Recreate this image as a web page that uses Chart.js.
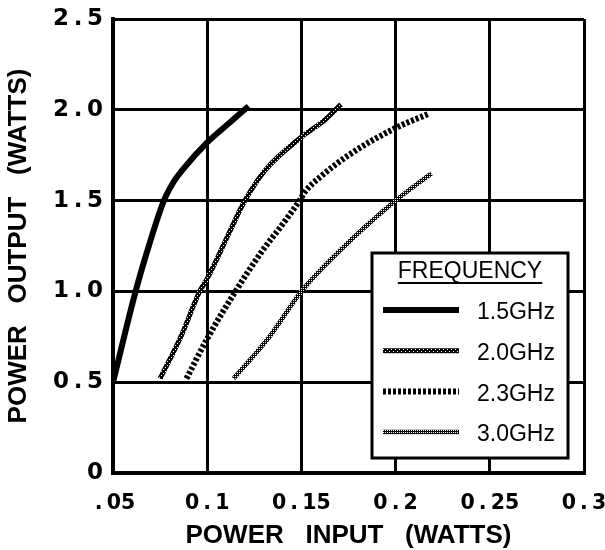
<!DOCTYPE html>
<html>
<head>
<meta charset="utf-8">
<script src="https://cdn.jsdelivr.net/npm/chart.js@4"></script>
<style>
  body { margin: 0; background: #fff; }
</style>
</head>
<body>
<canvas id="chart"></canvas>
<script>
// values
const xTicks = [0.05, 0.1, 0.15, 0.2, 0.25, 0.3];
const xTickLabels = [".05", "0.1", "0.15", "0.2", "0.25", "0.3"];
const yTicks = [0, 0.5, 1.0, 1.5, 2.0, 2.5];
const yTickLabels = ["0", "0.5", "1.0", "1.5", "2.0", "2.5"];

const seriesLabels = ["1.5GHz", "2.0GHz", "2.3GHz", "3.0GHz"];

const in15 = [0.05, 0.062, 0.069, 0.077, 0.082, 0.087, 0.1, 0.112, 0.122];
const out15 = [0.5, 1.0, 1.25, 1.5, 1.6, 1.67, 1.82, 1.93, 2.02];

const in20 = [0.075, 0.086, 0.096, 0.1, 0.112, 0.12, 0.131, 0.15, 0.162, 0.171];
const out20 = [0.52, 0.75, 1.0, 1.07, 1.33, 1.5, 1.67, 1.85, 1.94, 2.03];

const in23 = [0.089, 0.1, 0.115, 0.129, 0.14, 0.149, 0.152, 0.16, 0.175, 0.2, 0.218];
const out23 = [0.52, 0.74, 1.0, 1.22, 1.37, 1.5, 1.55, 1.63, 1.75, 1.9, 1.98];

const in30 = [0.114, 0.133, 0.15, 0.17, 0.2, 0.219];
const out30 = [0.52, 0.75, 1.0, 1.22, 1.5, 1.65];

const legendTitle = "FREQUENCY";
const xTitle = "POWER   INPUT   (WATTS)";
const yTitle = "POWER   OUTPUT   (WATTS)";

const canvas = document.querySelector("#chart");
canvas.width = 605;
canvas.height = 550;
const ctx = canvas.getContext("2d");

// small dither patterns for the grey "textured" pens
const makePattern = (rows) => {
  const c = document.createElement("canvas");
  c.width = rows[0].length;
  c.height = rows.length;
  const pc = c.getContext("2d");
  rows.forEach((r, y) => {
    r.split("").forEach((ch, x) => {
      pc.fillStyle = ch === "1" ? "#000" : "#fff";
      pc.fillRect(x, y, 1, 1);
    });
  });
  return ctx.createPattern(c, "repeat");
};
const pen20 = makePattern(["1111", "1110", "1111", "1011"]);
const pen30 = makePattern(["10", "11"]);

const toPoints = (xs, ys) => xs.map((x, i) => ({ x: x, y: ys[i] }));
// the tick numbers have a gap round the point
const spaced = (s) => s.replace(".", "\u2009.\u2009");
const font = '"Liberation Sans", Arial, sans-serif';
const tickFont = '"DejaVu Sans", sans-serif';

const legendBox = {
  id: "legendBox",
  afterDatasetsDraw(chart) {
    const { ctx, chartArea } = chart;
    const w = 196, h = 205;
    const left = chartArea.right - 16 - w;
    const top = chartArea.bottom - 15 - h;
    ctx.save();
    ctx.fillStyle = "#fff";
    ctx.fillRect(left, top, w, h);
    ctx.lineWidth = 3;
    ctx.strokeStyle = "#000";
    ctx.strokeRect(left, top, w, h);
    ctx.font = "23px " + font;
    ctx.fillStyle = "#000";
    ctx.textAlign = "center";
    ctx.textBaseline = "middle";
    ctx.fillText(legendTitle, left + w / 2, top + 19);
    const tw = ctx.measureText(legendTitle).width;
    ctx.fillRect(left + w / 2 - tw / 2, top + 29, tw, 2);
    ctx.textAlign = "left";
    chart.data.datasets.forEach((ds, i) => {
      const y = top + 59 + i * 40.7;
      ctx.beginPath();
      ctx.setLineDash(ds.borderDash || []);
      ctx.lineWidth = ds.borderWidth;
      ctx.strokeStyle = ds.borderColor;
      ctx.moveTo(left + 11, y - 2);
      ctx.lineTo(left + 87, y - 2);
      ctx.stroke();
      ctx.fillText(ds.label, left + 105, y + 1);
    });
    ctx.restore();
  },
};

const mChart = new Chart(ctx, {
  type: "line",
  data: {
    datasets: [
      {
        label: seriesLabels[0],
        data: toPoints(in15, out15),
        borderColor: "#000",
        borderWidth: 6,
      },
      {
        label: seriesLabels[1],
        data: toPoints(in20, out20),
        borderColor: pen20,
        borderWidth: 5,
      },
      {
        label: seriesLabels[2],
        data: toPoints(in23, out23),
        borderColor: "#000",
        borderWidth: 6,
        borderDash: [3, 2],
      },
      {
        label: seriesLabels[3],
        data: toPoints(in30, out30),
        borderColor: pen30,
        borderWidth: 4.5,
      },
    ],
  },
  options: {
    responsive: false,
    animation: false,
    layout: { autoPadding: false, padding: { top: 19, right: 21, left: 0, bottom: 0 } },
    elements: {
      point: { radius: 0 },
      line: { cubicInterpolationMode: "monotone", borderCapStyle: "butt" },
    },
    plugins: { legend: { display: false }, tooltip: { enabled: false } },
    scales: {
      x: {
        type: "linear",
        min: 0.05,
        max: 0.3,
        afterBuildTicks: (scale) => { scale.ticks = xTicks.map((v) => ({ value: v })); },
        afterFit: (scale) => {
          scale.height = 77;
          scale.paddingLeft = 0;
          scale.paddingRight = 0;
        },
        grid: { color: "#000", lineWidth: 3, drawTicks: false },
        border: { color: "#000", width: 4 },
        ticks: {
          color: "#000",
          padding: 18,
          font: { family: tickFont, size: 20.5, weight: "bold" },
          callback: (value, index) => spaced(xTickLabels[index]),
        },
        title: {
          display: true,
          text: xTitle,
          color: "#000",
          padding: 0,
          font: { family: font, size: 26, weight: "bold", lineHeight: 1.1 },
        },
      },
      y: {
        min: 0,
        max: 2.5,
        afterBuildTicks: (scale) => { scale.ticks = yTicks.map((v) => ({ value: v })); },
        afterFit: (scale) => {
          scale.width = 113;
          scale.paddingTop = 0;
          scale.paddingBottom = 0;
        },
        grid: { color: "#000", lineWidth: 3, drawTicks: false },
        border: { color: "#000", width: 4 },
        ticks: {
          color: "#000",
          padding: 10,
          font: { family: tickFont, size: 23, weight: "bold" },
          callback: (value, index) => spaced(yTickLabels[index]),
        },
        title: {
          display: true,
          text: yTitle,
          color: "#000",
          padding: { top: 5, bottom: 0 },
          font: { family: font, size: 26, weight: "bold", lineHeight: 1.1 },
        },
      },
    },
  },
  plugins: [legendBox],
});
</script>
</body>
</html>
